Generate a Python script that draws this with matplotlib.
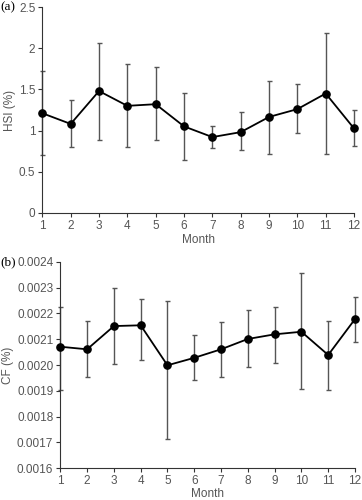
import numpy as np
import matplotlib
matplotlib.use('Agg')
import matplotlib.pyplot as plt
from matplotlib.ticker import FormatStrFormatter

months = np.arange(1, 13)

# (a) HSI (%)
hsi = [1.21, 1.08, 1.48, 1.30, 1.32, 1.05, 0.92, 0.98, 1.165, 1.26, 1.45, 1.025]
hsi_hi = [1.72, 1.37, 2.07, 1.81, 1.77, 1.46, 1.06, 1.22, 1.60, 1.56, 2.19, 1.245]
hsi_lo = [0.70, 0.805, 0.89, 0.80, 0.885, 0.64, 0.785, 0.76, 0.72, 0.97, 0.71, 0.815]

# (b) CF (%)
cf = [0.002071, 0.002061, 0.002151, 0.002154, 0.001999, 0.002028,
      0.002061, 0.002101, 0.002119, 0.002129, 0.002039, 0.002178]
cf_hi = [0.002226, 0.002172, 0.002298, 0.002256, 0.002248, 0.002116,
         0.002168, 0.002212, 0.002226, 0.002355, 0.002172, 0.002265]
cf_lo = [0.001903, 0.001952, 0.002006, 0.002021, 0.001715, 0.001941,
         0.001955, 0.001992, 0.002009, 0.001908, 0.001903, 0.002089]

plt.rcParams['font.family'] = ['Liberation Sans', 'DejaVu Sans']
txt = '#555555'
axc = '#333333'

fig = plt.figure(figsize=(3.62, 5.0), dpi=100)


def panel(rect, y, lo, hi, ylim, yticks, fmt, ylabel, tag, xpad):
    ax = fig.add_axes(rect)
    y = np.array(y)
    err = [y - np.array(lo), np.array(hi) - y]
    ax.errorbar(months, y, yerr=err, fmt='none', ecolor='#555555',
                elinewidth=1.0, capsize=1.8, capthick=1.0, zorder=2, clip_on=False)
    ax.plot(months, y, color='black', lw=1.3, marker='o', ms=5.2,
            zorder=3, clip_on=False)
    ax.set_xlim(1, 12)
    ax.set_ylim(*ylim)
    ax.set_xticks(months)
    ax.set_yticks(yticks)
    ax.yaxis.set_major_formatter(FormatStrFormatter(fmt))
    for s in ['top', 'right']:
        ax.spines[s].set_visible(False)
    for s in ['left', 'bottom']:
        ax.spines[s].set_color(axc)
        ax.spines[s].set_linewidth(0.8)
    ax.tick_params(direction='out', length=3, width=0.8, color=axc,
                   labelcolor=txt, labelsize=8.5, pad=2)
    ax.set_xlabel('Month', color=txt, fontsize=8.5, labelpad=xpad)
    ax.set_ylabel(ylabel, color=txt, fontsize=8.5, labelpad=2)
    fig.text(0.002, rect[1] + rect[3], tag, family=['Liberation Serif'],
             fontsize=9.5, va='center', ha='left', color='black')
    return ax


ax1 = panel([0.117, 0.5746, 0.861, 0.411], hsi, hsi_lo, hsi_hi,
            (0, 2.5), [0, 0.5, 1, 1.5, 2, 2.5], '%g', 'HSI (%)', '(a)', 2)
ax2 = panel([0.1666, 0.0634, 0.814, 0.413], cf, cf_lo, cf_hi,
            (0.0016, 0.0024), np.arange(0.0016, 0.00241, 0.0001), '%.4f',
            'CF (%)', '(b)', 0.3)

fig.savefig('out.png', dpi=100)
